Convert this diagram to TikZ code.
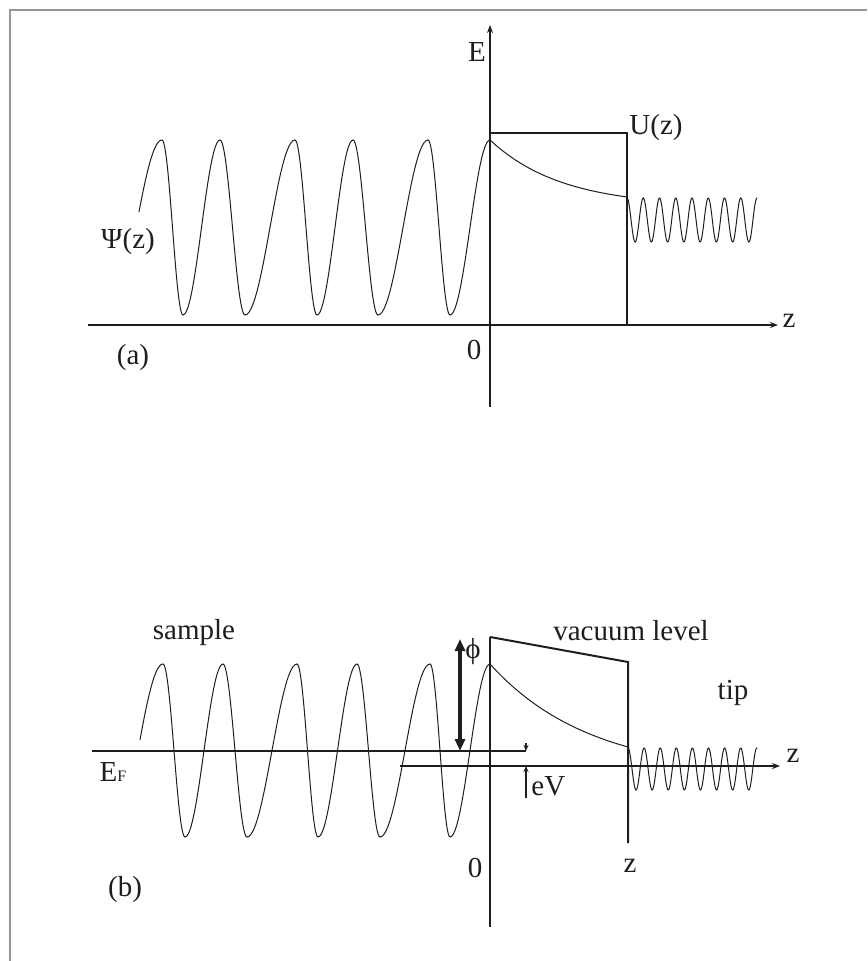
\documentclass[tikz,border=0pt]{standalone}
\usepackage{fontspec}
\setmainfont{Liberation Serif}
\definecolor{inkgray}{RGB}{30,30,30}
\definecolor{framegray}{RGB}{150,150,150}
\usetikzlibrary{arrows.meta,positioning,calc}

\begin{document}
\begin{tikzpicture}[
    x=0.5pt, y=-0.5pt,
    axisline/.style={draw=inkgray, line width=0.8pt},
    axisarr/.style={axisline, -{Stealth[length=4pt, width=3pt]}},
    barrier/.style={draw=inkgray, line width=1pt, line join=miter},
    waveline/.style={draw=inkgray, line width=0.5pt, line cap=round},
    lbl/.style={font=\fontsize{14.5}{17}\selectfont, text=inkgray, inner sep=0pt},
    phiarr/.style={draw=inkgray, line width=1.6pt,
                   {Triangle[length=6pt, width=5pt]}-{Triangle[length=6pt, width=5pt]}},
    evarr/.style={draw=inkgray, line width=0.6pt, -{Stealth[length=3pt, width=2.5pt]}}
  ]
    \useasboundingbox (0,0) rectangle (867,961);
    % frame
    \draw[framegray, line width=0.8pt] (10,961) -- (10,10) -- (867,10);

    % ---------- panel (a) ----------
    \coordinate (Etip) at (490,25);
    \coordinate (Ebot) at (490,407);
    \coordinate (zaL)  at (88,325);
    \coordinate (zaR)  at (778,325);
    \coordinate (UtopL) at (490,133);
    \coordinate (UtopR) at (627,133);
    \coordinate (Ubot)  at (627,325);

    \draw[axisarr] (Ebot) -- (Etip);
    \draw[axisarr] (zaL) -- (zaR);
    \draw[barrier] (UtopL) -- (UtopR) -- (Ubot);

    % wave in the sample, half cycle by half cycle
    \foreach \xa/\xb/\xs/\sg in {110/162/139/1, 162/183/162/-1, 183/220/183/1,
        220/245/220/-1, 245/295/245/1, 295/317/295/-1, 317/353/317/1,
        353/378/353/-1, 378/428/378/1, 428/450/428/-1, 450/490/450/1}
      \draw[waveline] plot[domain=\xs:\xb, samples=25]
        (\x, {227.5 + \sg*87.5*cos(180/(\xb-\xa)*(\x-\xa))});
    % decay in the barrier
    \draw[waveline] plot[domain=490:627, samples=40]
      (\x, {140 + 57*(1-exp(-0.014*(\x-490)))/(1-exp(-0.014*137))});
    % wave in the tip
    \draw[waveline] plot[domain=627:757, samples=240]
      (\x, {220 - 22*cos(360/16.25*(\x-627))});

    \node[lbl] (Elab)  at (477,52)  {E};
    \node[lbl] (Ulab)  at (656,128) {U(z)};
    \node[lbl] (zaLab) at (789,321) {z};
    \node[lbl] (Olab)  at (474,350) {0};
    \node[lbl] (Psi)   at (128,242) {Ψ(z)};
    \node[lbl] (alab)  at (133,358) {(a)};

    % ---------- panel (b) ----------
    \coordinate (Vtop) at (490,637);
    \coordinate (Vbot) at (490,927);
    \coordinate (zbL)  at (400,766);
    \coordinate (zbR)  at (780,766);
    \coordinate (vacR) at (628,662);
    \coordinate (vacB) at (628,843);
    \coordinate (EFL)  at (92,751);
    \coordinate (EFR)  at (526,751);
    \coordinate (phitop) at (460,639);
    \coordinate (phibot) at (460,751);
    \coordinate (eVtop) at (526,743);
    \coordinate (eVbot) at (526,798);
    \coordinate (eVz)   at (526,766);

    \draw[axisline] (Vtop) -- (Vbot);
    \draw[axisarr] (zbL) -- (zbR);
    \draw[barrier] (Vtop) -- (vacR) -- (vacB);
    \draw[axisline] (EFL) -- (EFR);
    \draw[phiarr] (phitop) -- (phibot);
    \draw[evarr] (eVtop) -- (EFR);
    \draw[evarr] (eVbot) -- (eVz);

    \foreach \xa/\xb/\xs/\sg in {113/163/140/1, 163/185/163/-1, 185/223/185/1,
        223/247/223/-1, 247/297/247/1, 297/318/297/-1, 318/357/318/1,
        357/380/357/-1, 380/430/380/1, 430/450/430/-1, 450/490/450/1}
      \draw[waveline] plot[domain=\xs:\xb, samples=25]
        (\x, {750.5 + \sg*86.5*cos(180/(\xb-\xa)*(\x-\xa))});
    \draw[waveline] plot[domain=490:628, samples=40]
      (\x, {664 + 83*(1-exp(-0.01*(\x-490)))/(1-exp(-0.01*138))});
    \draw[waveline] plot[domain=628:757, samples=240]
      (\x, {769 - 21*cos(360/16.1*(\x-628))});

    \node[lbl] (sample) at (194,633) {sample};
    \node[lbl] (vaclab) at (631,631) {vacuum level};
    \node[lbl] (philab) at (473,652) {ϕ};
    \node[lbl] (tiplab) at (733,693) {tip};
    \node[lbl] (zbLab)  at (793,756) {z};
    \node[lbl] (EFlab)  at (113,772) {E{\fontsize{8}{8}\selectfont F}};
    \node[lbl, anchor=west] (eVlab) at (531,786) {eV};
    \node[lbl] (Oblab)  at (475,868) {0};
    \node[lbl] (zdlab)  at (630,866) {z};
    \node[lbl] (blab)   at (125,890) {(b)};
  \end{tikzpicture}
\end{document}
